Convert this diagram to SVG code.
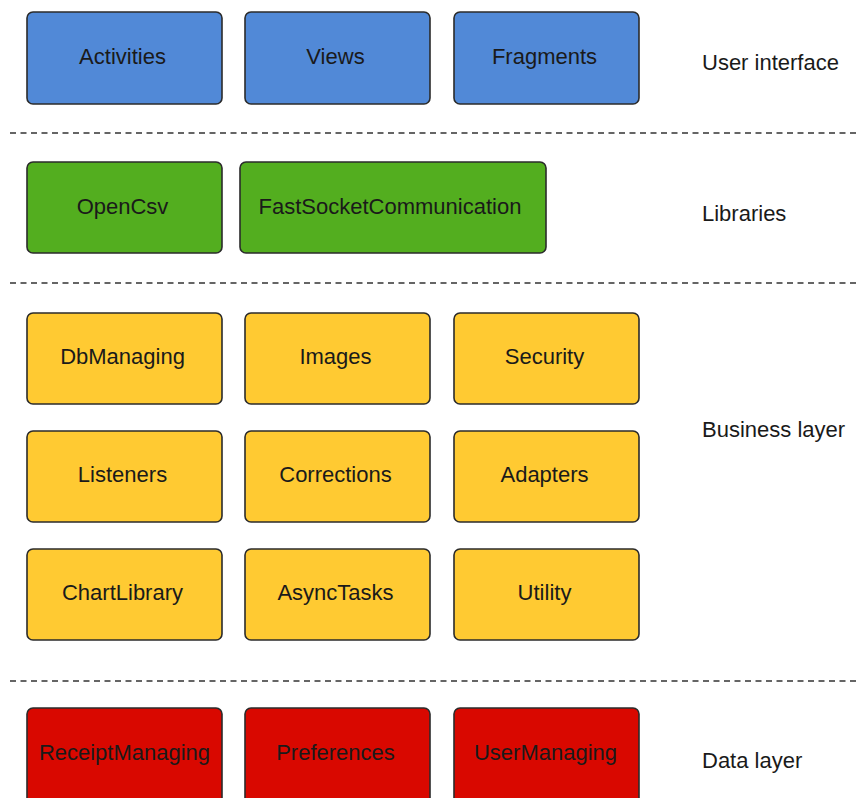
<svg xmlns="http://www.w3.org/2000/svg" width="857" height="798" viewBox="0 0 857 798">
  <style>
    .box { stroke: #2b2b2b; stroke-width: 1.6; }
    .ui { fill: #5189d7; }
    .lib { fill: #53ae1f; }
    .biz { fill: #ffca32; }
    .data { fill: #d90800; }
    .name { font-family: "Liberation Sans", Arial, sans-serif; font-size: 22px; fill: #1a1a1a; text-anchor: middle; dominant-baseline: central; }
    .layer { font-family: "Liberation Sans", Arial, sans-serif; font-size: 22px; fill: #1a1a1a; dominant-baseline: central; }
    .sep { stroke: #333; stroke-width: 1.6; stroke-dasharray: 6 4.5; fill: none; }
  </style>
  <rect width="857" height="798" fill="#ffffff"/>

  <!-- layer separators -->
  <g id="separators">
    <line class="sep" x1="10" y1="133" x2="857" y2="133"/>
    <line class="sep" x1="10" y1="283" x2="857" y2="283"/>
    <line class="sep" x1="10" y1="681" x2="857" y2="681"/>
  </g>

  <!-- user interface -->
  <g id="activities"><rect class="box ui" x="27" y="12" width="195" height="92" rx="6"/><text class="name" x="122.5" y="56">Activities</text></g>
  <g id="views"><rect class="box ui" x="245" y="12" width="185" height="92" rx="6"/><text class="name" x="335.5" y="56">Views</text></g>
  <g id="fragments"><rect class="box ui" x="454" y="12" width="185" height="92" rx="6"/><text class="name" x="544.5" y="56">Fragments</text></g>

  <!-- libraries -->
  <g id="opencsv"><rect class="box lib" x="27" y="162" width="195" height="91" rx="6"/><text class="name" x="122.5" y="206">OpenCsv</text></g>
  <g id="fastsocket"><rect class="box lib" x="240" y="162" width="306" height="91" rx="6"/><text class="name" x="390" y="206">FastSocketCommunication</text></g>

  <!-- business layer -->
  <g id="dbmanaging"><rect class="box biz" x="27" y="313" width="195" height="91" rx="6"/><text class="name" x="122.5" y="356">DbManaging</text></g>
  <g id="images"><rect class="box biz" x="245" y="313" width="185" height="91" rx="6"/><text class="name" x="335.5" y="356">Images</text></g>
  <g id="security"><rect class="box biz" x="454" y="313" width="185" height="91" rx="6"/><text class="name" x="544.5" y="356">Security</text></g>

  <g id="listeners"><rect class="box biz" x="27" y="431" width="195" height="91" rx="6"/><text class="name" x="122.5" y="474">Listeners</text></g>
  <g id="corrections"><rect class="box biz" x="245" y="431" width="185" height="91" rx="6"/><text class="name" x="335.5" y="474">Corrections</text></g>
  <g id="adapters"><rect class="box biz" x="454" y="431" width="185" height="91" rx="6"/><text class="name" x="544.5" y="474">Adapters</text></g>

  <g id="chartlibrary"><rect class="box biz" x="27" y="549" width="195" height="91" rx="6"/><text class="name" x="122.5" y="592">ChartLibrary</text></g>
  <g id="asynctasks"><rect class="box biz" x="245" y="549" width="185" height="91" rx="6"/><text class="name" x="335.5" y="592">AsyncTasks</text></g>
  <g id="utility"><rect class="box biz" x="454" y="549" width="185" height="91" rx="6"/><text class="name" x="544.5" y="592">Utility</text></g>

  <!-- data layer -->
  <g id="receiptmanaging"><rect class="box data" x="27" y="708" width="195" height="100" rx="6"/><text class="name" x="124.5" y="752">ReceiptManaging</text></g>
  <g id="preferences"><rect class="box data" x="245" y="708" width="185" height="100" rx="6"/><text class="name" x="335.5" y="752">Preferences</text></g>
  <g id="usermanaging"><rect class="box data" x="454" y="708" width="185" height="100" rx="6"/><text class="name" x="545.5" y="752">UserManaging</text></g>

  <!-- layer names -->
  <g id="layer-labels">
    <text class="layer" x="702" y="62">User interface</text>
    <text class="layer" x="702" y="213">Libraries</text>
    <text class="layer" x="702" y="429">Business layer</text>
    <text class="layer" x="702" y="760">Data layer</text>
  </g>
</svg>
